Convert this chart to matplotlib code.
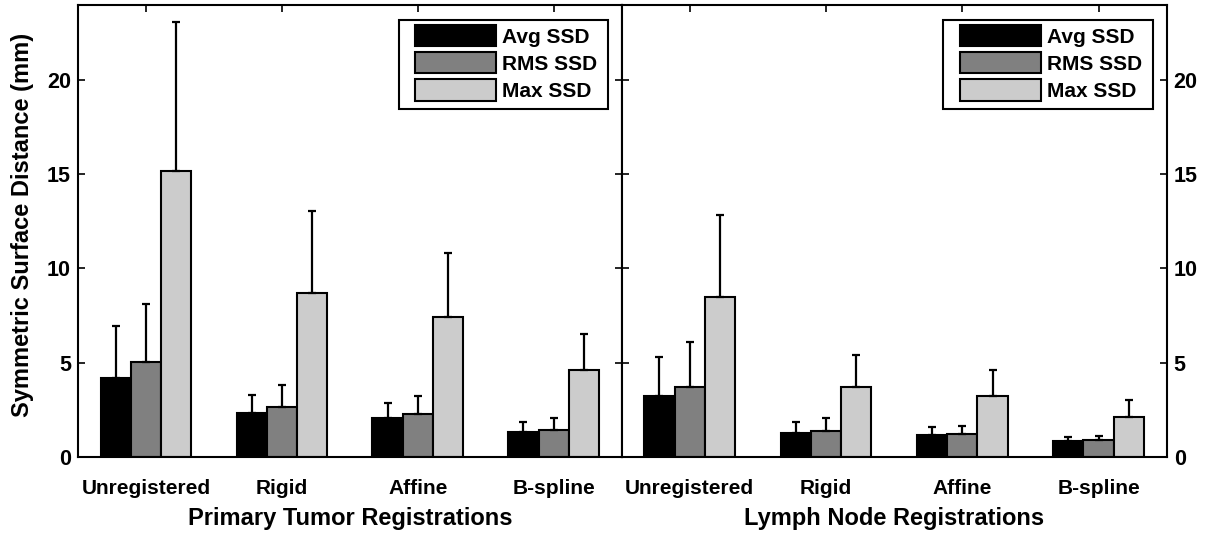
import matplotlib
matplotlib.use("Agg")
import matplotlib.pyplot as plt
from matplotlib.patches import Rectangle
import numpy as np

plt.rcParams['font.family'] = ['Liberation Sans', 'DejaVu Sans']
plt.rcParams['font.weight'] = 'bold'

categories = ["Unregistered", "Rigid", "Affine", "B-spline"]
series_names = ["Avg SSD", "RMS SSD", "Max SSD"]
series_colors = ["#000000", "#808080", "#cccccc"]

# Primary tumor registrations: mean values and upper error extents
tumor_avg = [4.18, 2.34, 2.04, 1.33]
tumor_rms = [5.03, 2.66, 2.27, 1.42]
tumor_max = [15.17, 8.70, 7.43, 4.58]
tumor_avg_err = [2.75, 0.95, 0.80, 0.53]
tumor_rms_err = [3.10, 1.16, 0.96, 0.63]
tumor_max_err = [7.92, 4.34, 3.41, 1.96]

# Lymph node registrations
node_avg = [3.20, 1.28, 1.14, 0.85]
node_rms = [3.68, 1.39, 1.21, 0.90]
node_max = [8.47, 3.70, 3.20, 2.13]
node_avg_err = [2.07, 0.55, 0.46, 0.22]
node_rms_err = [2.39, 0.66, 0.43, 0.22]
node_max_err = [4.37, 1.70, 1.38, 0.89]

panels = [
    ("Primary Tumor Registrations",
     [tumor_avg, tumor_rms, tumor_max],
     [tumor_avg_err, tumor_rms_err, tumor_max_err]),
    ("Lymph Node Registrations",
     [node_avg, node_rms, node_max],
     [node_avg_err, node_rms_err, node_max_err]),
]

fig = plt.figure(figsize=(12.07, 5.35), dpi=100)
ax_left = fig.add_axes([0.0646, 0.1464, 0.4504, 0.8443])
ax_right = fig.add_axes([0.5150, 0.1464, 0.4516, 0.8443])

x = np.arange(1, len(categories) + 1)
bw = 0.222
offsets = [-bw, 0.0, bw]

for ax, (xlabel, vals, errs) in zip([ax_left, ax_right], panels):
    ax.set_axisbelow(True)
    handles = []
    for k in range(3):
        h = ax.bar(x + offsets[k], vals[k], width=bw, color=series_colors[k],
                   edgecolor='black', linewidth=1.5, zorder=2,
                   label=series_names[k])
        ax.errorbar(x + offsets[k], vals[k],
                    yerr=[np.zeros(len(categories)), errs[k]],
                    fmt='none', ecolor='black', elinewidth=1.6,
                    capsize=2.8, capthick=1.6, zorder=3)
        handles.append(h)
    ax.set_xlim(0.5, 4.5)
    ax.set_ylim(0, 24)
    ax.set_xticks(x)
    ax.set_xticklabels(categories, fontsize=15, fontweight='bold')
    ax.set_yticks([0, 5, 10, 15, 20])
    ax.set_xlabel(xlabel, fontsize=17, fontweight='bold', labelpad=6.5)
    ax.tick_params(direction='in', length=5, width=1.2, top=True,
                   right=True, left=True, bottom=True)
    ax.tick_params(axis='x', labelsize=15, pad=16)
    ax.tick_params(axis='y', labelsize=15.5, pad=5)
    for sp in ax.spines.values():
        sp.set_linewidth(1.5)

    # legend box outline
    ax.add_patch(Rectangle((0.590, 0.7698), 0.975 - 0.590, 0.9668 - 0.7698,
                           transform=ax.transAxes, facecolor='white',
                           edgecolor='black', linewidth=1.5, zorder=4,
                           clip_on=False))
    leg = ax.legend(handles=handles, loc='upper left',
                    bbox_to_anchor=(0.6205, 0.9557),
                    prop={'size': 15, 'weight': 'bold'},
                    frameon=False, handlelength=3.88, handleheight=1.2,
                    labelspacing=0.26, borderpad=0.0, handletextpad=0.3,
                    borderaxespad=0.0)
    leg.set_zorder(5)

ax_left.set_ylabel("Symmetric Surface Distance (mm)", fontsize=17,
                   fontweight='bold')
ax_left.yaxis.set_label_coords(-0.081, 0.513)
for lab in ax_left.get_yticklabels():
    lab.set_fontweight('bold')

ax_right.tick_params(labelleft=False, labelright=True)
for lab in ax_right.get_yticklabels():
    lab.set_fontweight('bold')

fig.savefig("out.png", dpi=100)
